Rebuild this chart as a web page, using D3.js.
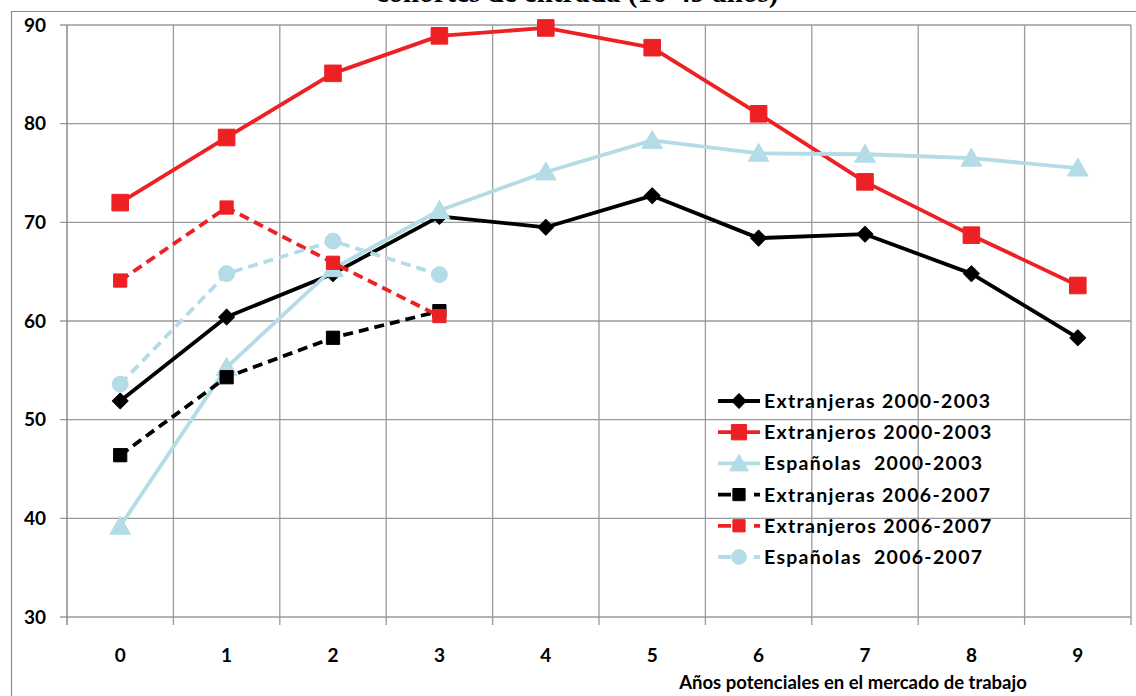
<!DOCTYPE html>
<html><head><meta charset="utf-8">
<script src="https://cdn.jsdelivr.net/npm/d3@7"></script>
<style>body{margin:0;background:#fff}svg{display:block}</style>
</head><body><svg id="c" width="1136" height="696"></svg>
<script>
const categories = ["0","1","2","3","4","5","6","7","8","9"];
const yTicks = [30,40,50,60,70,80,90];
const extranjeras0003 = [51.9,60.4,64.8,70.6,69.5,72.7,68.4,68.8,64.8,58.3];
const extranjeros0003 = [72.0,78.6,85.1,88.9,89.7,87.7,81.0,74.1,68.7,63.6];
const espanolas0003  = [39.2,55.3,65.3,71.2,75.1,78.3,77.0,76.9,76.5,75.5];
const extranjeras0607 = [46.4,54.3,58.3,61.0];
const extranjeros0607 = [64.1,71.5,65.9,60.5];
const espanolas0607  = [53.6,64.8,68.1,64.7];
const seriesNames = ["Extranjeras 2000-2003","Extranjeros 2000-2003","Españolas  2000-2003","Extranjeras 2006-2007","Extranjeros 2006-2007","Españolas  2006-2007"];
const title = "cohortes de entrada (16-49 años)";
const xTitle = "Años potenciales en el mercado de trabajo";

const RED="#ED2024", BLUE="#B4DCE6", BLK="#000";
const series = [
 {name:seriesNames[0], values:extranjeras0003, color:BLK, dash:null, sym:"diamond", size:125},
 {name:seriesNames[1], values:extranjeros0003, color:RED, dash:null, sym:"square", size:275},
 {name:seriesNames[2], values:espanolas0003, color:BLUE, dash:null, sym:"triangle", size:185},
 {name:seriesNames[3], values:extranjeras0607, color:BLK, dash:"10,6", sym:"square", size:175},
 {name:seriesNames[4], values:extranjeros0607, color:RED, dash:"10,6", sym:"square", size:175},
 {name:seriesNames[5], values:espanolas0607, color:BLUE, dash:"10,6", sym:"circle", size:200},
];

const svg = d3.select("#c");
const L=67,R=1131,T=25,B=617;
const x = d3.scaleBand().domain(categories).range([L,R]).padding(0);
const y = d3.scaleLinear().domain([30,90]).range([B,T]);
const cx = c => x(c)+x.bandwidth()/2;
const FONT = "Lato, 'Open Sans', sans-serif";

// outer frame
svg.append("path").attr("d",`M11.5,696 V11.5 H1136`).attr("fill","none").attr("stroke","#8c8c8c").attr("stroke-width",1.2);
// title (top cut off, as in the reference)
svg.append("text").attr("x",577).attr("y",2).attr("text-anchor","middle")
 .attr("font-family","'Liberation Serif','Times New Roman',serif").attr("font-weight","bold").attr("font-size",29).text(title);

// gridlines
const g = svg.append("g");
yTicks.forEach(t=>{
  g.append("line").attr("x1",L-7).attr("x2",R).attr("y1",y(t)).attr("y2",y(t)).attr("stroke","#9a9a9a").attr("stroke-width",1.3);
});
categories.forEach((c,i)=>{
  const xx = x(c)+x.bandwidth();
  g.append("line").attr("x1",xx).attr("x2",xx).attr("y1",T).attr("y2",B+8).attr("stroke","#9a9a9a").attr("stroke-width",1.3);
});
g.append("line").attr("x1",L).attr("x2",L).attr("y1",T).attr("y2",B+8).attr("stroke","#8a8a8a").attr("stroke-width",1.5);

// axes labels via d3 axes
const ya = svg.append("g").attr("transform",`translate(${L-21},0)`)
 .call(d3.axisLeft(y).tickValues(yTicks).tickSize(0).tickPadding(0));
ya.select(".domain").remove();
ya.selectAll("text").attr("font-family",FONT).attr("font-weight","bold").attr("font-size",19).attr("fill","#000");
const xa = svg.append("g").attr("transform",`translate(0,${B+31})`)
 .call(d3.axisBottom(x).tickSize(0).tickPadding(0));
xa.select(".domain").remove();
xa.selectAll("text").attr("font-family",FONT).attr("font-weight","bold").attr("font-size",19).attr("fill","#000");

svg.append("text").attr("x",853).attr("y",689).attr("text-anchor","middle")
 .attr("font-family",FONT).attr("font-weight","bold").attr("font-size",18.5).text(xTitle);

function symPath(s,size){
  const type = {square:d3.symbolSquare, diamond:d3.symbolSquare, triangle:d3.symbolTriangle, circle:d3.symbolCircle}[s.sym];
  return d3.symbol().type(type).size(size)();
}
function drawMarker(sel, s, px, py, size){
  const p = sel.append("path").attr("d",symPath(s,size)).attr("fill",s.color)
   .attr("stroke",s.color).attr("stroke-width",1).attr("stroke-linejoin","round");
  let tr = `translate(${px},${py})`;
  if(s.sym==="diamond") tr += " rotate(45)";
  if(s.sym==="triangle") tr += " translate(0,2)";
  p.attr("transform",tr);
}

const line = d3.line().x((d,i)=>cx(categories[i])).y(d=>y(d));
series.forEach(s=>{
  const gs = svg.append("g");
  gs.append("path").attr("d",line(s.values)).attr("fill","none").attr("stroke",s.color)
   .attr("stroke-width",3.8).attr("stroke-dasharray",s.dash).attr("stroke-linejoin","round");
  s.values.forEach((v,i)=>drawMarker(gs,s,cx(categories[i]),y(v),s.size));
});

// legend
const lg = svg.append("g");
series.forEach((s,i)=>{
  const ly = 401 + i*31.2;
  lg.append("line").attr("x1",718).attr("x2",760).attr("y1",ly).attr("y2",ly).attr("stroke",s.color)
   .attr("stroke-width",3.8).attr("stroke-dasharray",s.dash ? "13,7,4,12,6" : null);
  drawMarker(lg,s,739,ly,s.size*0.85);
  lg.append("text").attr("x",764).attr("y",ly).attr("dy","0.36em").attr("font-family",FONT)
   .attr("font-weight","bold").attr("font-size",19.5).attr("letter-spacing","1.3px")
   .attr("xml:space","preserve").style("white-space","pre").text(s.name);
});
</script></body></html>
